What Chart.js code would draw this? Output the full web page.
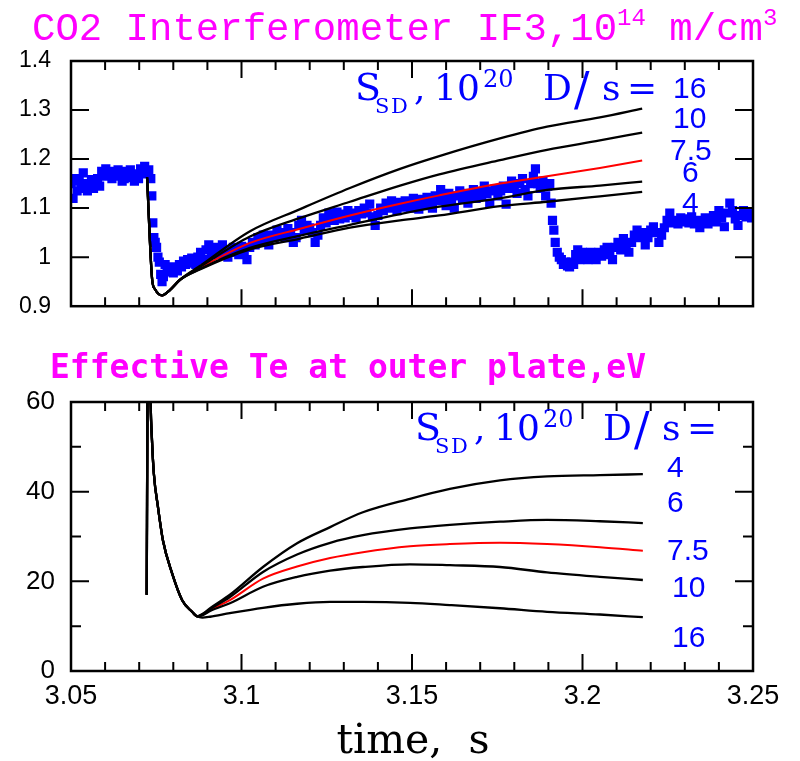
<!DOCTYPE html>
<html>
<head>
<meta charset="utf-8">
<script src="https://cdn.jsdelivr.net/npm/chart.js@4.4.1/dist/chart.umd.min.js"></script>
<style>
  html, body { margin: 0; padding: 0; background: #fff; }
  #wrap { position: relative; width: 800px; height: 761px; }
  canvas { position: absolute; left: 0; }
  #topChart { top: 0; }
  #botChart { top: 340px; }
</style>
</head>
<body>
<div id="wrap">
  <canvas id="topChart" width="800" height="340"></canvas>
  <canvas id="botChart" width="800" height="421"></canvas>
</div>
<script>
var xTicks = [3.05, 3.1, 3.15, 3.2, 3.25];
var topYTicks = [0.9, 1, 1.1, 1.2, 1.3, 1.4];
var botYTicks = [0, 20, 40, 60];
var topRunLabels = ['16', '10', '7.5', '6', '4'];
var botRunLabels = ['4', '6', '7.5', '10', '16'];

// measured line density, IF3 chord [time s, 1e14 cm^-3]
var densPoints = [
  [3.0500,1.150],[3.0506,1.120],[3.0512,1.160],[3.0518,1.135],[3.0524,1.155],[3.0530,1.140],
  [3.0536,1.172],[3.0542,1.150],[3.0548,1.135],[3.0554,1.145],[3.0560,1.158],[3.0566,1.140],
  [3.0572,1.150],[3.0578,1.160],[3.0584,1.145],[3.0590,1.175],[3.0596,1.165],[3.0602,1.180],
  [3.0608,1.168],[3.0614,1.175],[3.0620,1.160],[3.0626,1.172],[3.0632,1.165],[3.0638,1.178],
  [3.0644,1.170],[3.0650,1.155],[3.0656,1.160],[3.0662,1.175],[3.0668,1.162],[3.0674,1.178],
  [3.0680,1.168],[3.0686,1.155],[3.0692,1.170],[3.0698,1.160],[3.0704,1.180],[3.0710,1.172],
  [3.0716,1.185],[3.0722,1.170],[3.0728,1.178],[3.0734,1.160],[3.0737,1.125],[3.0740,1.070],
  [3.0743,1.040],[3.0747,1.030],[3.0751,1.020],[3.0755,1.000],[3.0759,0.990],[3.0763,0.965],
  [3.0767,0.950],[3.0771,0.960],[3.0776,0.985],[3.0782,0.975],[3.0788,0.970],[3.0794,0.980],
  [3.0800,0.968],[3.0806,0.978],[3.0812,0.972],[3.0818,0.985],[3.0824,0.980],[3.0830,0.992],
  [3.0836,0.985],[3.0842,0.995],[3.0848,0.988],[3.0854,0.998],[3.0860,0.990],[3.0866,0.985],
  [3.0872,1.000],[3.0880,1.010],[3.0888,0.995],[3.0896,1.015],[3.0904,1.025],[3.0912,1.005],
  [3.0920,1.010],[3.0928,1.020],[3.0936,1.005],[3.0944,1.025],[3.0952,1.015],[3.0960,1.000],
  [3.0968,1.010],[3.0976,1.020],[3.0984,1.010],[3.0992,1.005],[3.1000,1.022],[3.1008,1.012],
  [3.1016,0.995],[3.1024,1.020],[3.1032,1.030],[3.1040,1.025],[3.1048,1.040],[3.1056,1.030],
  [3.1064,1.045],[3.1072,1.035],[3.1080,1.025],[3.1088,1.045],[3.1096,1.040],[3.1104,1.055],
  [3.1112,1.045],[3.1120,1.050],[3.1128,1.040],[3.1136,1.058],[3.1144,1.050],[3.1152,1.030],
  [3.1160,1.040],[3.1168,1.065],[3.1176,1.075],[3.1184,1.055],[3.1192,1.065],[3.1200,1.060],
  [3.1208,1.050],[3.1216,1.030],[3.1224,1.045],[3.1232,1.065],[3.1240,1.080],[3.1248,1.070],
  [3.1256,1.090],[3.1264,1.085],[3.1272,1.075],[3.1280,1.092],[3.1288,1.078],[3.1296,1.088],
  [3.1304,1.080],[3.1312,1.095],[3.1320,1.085],[3.1328,1.090],[3.1336,1.080],[3.1344,1.095],
  [3.1352,1.088],[3.1360,1.100],[3.1368,1.090],[3.1376,1.108],[3.1384,1.082],[3.1392,1.065],
  [3.1400,1.085],[3.1408,1.100],[3.1416,1.095],[3.1424,1.110],[3.1432,1.100],[3.1440,1.115],
  [3.1448,1.105],[3.1456,1.095],[3.1464,1.112],[3.1472,1.102],[3.1480,1.115],[3.1488,1.108],
  [3.1496,1.100],[3.1504,1.120],[3.1512,1.110],[3.1520,1.098],[3.1528,1.118],[3.1536,1.105],
  [3.1544,1.122],[3.1552,1.112],[3.1560,1.100],[3.1568,1.125],[3.1576,1.115],[3.1584,1.138],
  [3.1592,1.120],[3.1600,1.105],[3.1608,1.130],[3.1616,1.115],[3.1624,1.100],[3.1632,1.125],
  [3.1640,1.135],[3.1648,1.118],[3.1656,1.130],[3.1664,1.110],[3.1672,1.128],[3.1680,1.138],
  [3.1688,1.120],[3.1696,1.132],[3.1704,1.125],[3.1712,1.145],[3.1720,1.130],[3.1728,1.110],
  [3.1736,1.135],[3.1744,1.140],[3.1752,1.125],[3.1760,1.135],[3.1768,1.145],[3.1776,1.108],
  [3.1784,1.140],[3.1792,1.155],[3.1800,1.140],[3.1808,1.130],[3.1816,1.150],[3.1824,1.160],
  [3.1832,1.138],[3.1840,1.125],[3.1848,1.150],[3.1856,1.165],[3.1862,1.180],[3.1868,1.150],
  [3.1876,1.140],[3.1884,1.155],[3.1892,1.125],[3.1898,1.145],[3.1904,1.150],[3.1908,1.110],
  [3.1912,1.075],[3.1916,1.055],[3.1920,1.030],[3.1926,1.010],[3.1932,1.000],[3.1938,0.995],
  [3.1944,0.985],[3.1950,0.990],[3.1956,0.982],[3.1962,0.980],[3.1968,0.990],[3.1974,0.985],
  [3.1980,1.005],[3.1986,1.015],[3.1992,0.995],[3.2000,1.010],[3.2008,1.002],[3.2016,0.995],
  [3.2024,1.010],[3.2032,1.005],[3.2040,0.995],[3.2048,1.010],[3.2056,1.002],[3.2064,1.015],
  [3.2072,1.020],[3.2080,1.005],[3.2088,0.995],[3.2096,1.020],[3.2104,1.030],[3.2112,1.015],
  [3.2120,1.038],[3.2128,1.025],[3.2136,1.010],[3.2144,1.030],[3.2152,1.045],[3.2160,1.055],
  [3.2168,1.040],[3.2176,1.050],[3.2184,1.025],[3.2192,1.040],[3.2200,1.055],[3.2208,1.062],
  [3.2216,1.050],[3.2224,1.030],[3.2232,1.045],[3.2240,1.060],[3.2248,1.075],[3.2256,1.090],
  [3.2264,1.070],[3.2272,1.075],[3.2280,1.068],[3.2288,1.080],[3.2296,1.072],[3.2304,1.078],
  [3.2312,1.070],[3.2320,1.082],[3.2328,1.068],[3.2336,1.075],[3.2344,1.060],[3.2352,1.072],
  [3.2360,1.080],[3.2368,1.068],[3.2376,1.075],[3.2384,1.085],[3.2392,1.072],[3.2400,1.095],
  [3.2408,1.080],[3.2416,1.062],[3.2424,1.090],[3.2432,1.110],[3.2440,1.095],[3.2448,1.078],
  [3.2456,1.065],[3.2464,1.085],[3.2472,1.095],[3.2480,1.082],[3.2488,1.090],[3.2496,1.080],
  [3.2504,1.088]
];

// modelled density, shared start then one run per S_SD
var topStartT = [3.0723, 3.0738, 3.0746, 3.0767, 3.0790, 3.0820];
var topStartV = [1.163, 0.954, 0.935, 0.922, 0.933, 0.954];
var topT   = [3.0878, 3.1025, 3.1172, 3.1318, 3.1465, 3.1580, 3.1758, 3.1896, 3.2051, 3.2175];
var topN16 = [0.982, 1.053, 1.098, 1.141, 1.180, 1.206, 1.242, 1.266, 1.285, 1.303];
var topN10 = [0.980, 1.042, 1.080, 1.113, 1.146, 1.169, 1.198, 1.219, 1.238, 1.254];
var topN75 = [0.978, 1.029, 1.058, 1.085, 1.109, 1.126, 1.150, 1.165, 1.182, 1.197];
var topN6  = [0.976, 1.019, 1.044, 1.066, 1.088, 1.103, 1.120, 1.137, 1.146, 1.154];
var topN4  = [0.975, 1.016, 1.038, 1.060, 1.075, 1.085, 1.104, 1.113, 1.124, 1.133];

// modelled Te at outer plate
var botStartT = [3.0722, 3.0727, 3.07335, 3.07375, 3.0743, 3.0755, 3.0770, 3.0796, 3.0826, 3.0855, 3.0870];
var botStartV = [17, 100, 60, 51.5, 44, 36.6, 29, 21.9, 15.8, 13.2, 12.2];
var botT    = [3.0885, 3.0908, 3.0966, 3.1063, 3.1163, 3.1260, 3.1356, 3.1494, 3.1611, 3.1758, 3.1896, 3.2051, 3.2177];
var botTe4  = [12.7, 14.0, 17.0, 23.2, 28.5, 32.1, 35.4, 38.4, 40.6, 42.5, 43.4, 43.7, 43.9];
var botTe6  = [12.6, 13.8, 16.5, 22.1, 26.0, 28.6, 30.3, 31.8, 32.6, 33.3, 33.7, 33.4, 33.0];
var botTe75 = [12.5, 13.6, 15.8, 20.6, 23.3, 25.2, 26.5, 27.8, 28.3, 28.6, 28.3, 27.6, 26.8];
var botTe10 = [12.4, 13.4, 15.1, 18.8, 21.0, 22.4, 23.2, 23.8, 23.6, 23.2, 22.0, 21.0, 20.3];
var botTe16 = [11.9, 12.1, 12.9, 14.1, 15.0, 15.4, 15.4, 15.2, 14.7, 14.0, 13.2, 12.6, 12.0];

function toXY(ts, vs) {
  return ts.map(function (t, i) { return { x: t, y: vs[i] }; });
}

function modelLine(startT, startV, ts, vs, color) {
  return {
    data: toXY(startT.concat(ts), startV.concat(vs)),
    borderColor: color,
    borderWidth: color === '#ff0000' ? 2 : 2.3,
    pointRadius: 0,
    cubicInterpolationMode: 'monotone',
    fill: false
  };
}

function fmt(v) { return String(+v.toFixed(2)); }

// box with inward ticks on all four sides
var framePlugin = {
  id: 'frame',
  afterDatasetsDraw: function (chart, args, opts) {
    var ctx = chart.ctx, a = chart.chartArea;
    var xs = chart.scales.x, ys = chart.scales.y;
    ctx.save();
    ctx.strokeStyle = '#000';
    ctx.lineWidth = 2;
    ctx.beginPath();
    for (var i = 1; i < 20; i++) {
      var px = xs.getPixelForValue(3.05 + i * 0.01);
      var len = i % 5 === 0 ? 17 : 9;
      ctx.moveTo(px, a.bottom); ctx.lineTo(px, a.bottom - len);
      ctx.moveTo(px, a.top); ctx.lineTo(px, a.top + len);
    }
    for (var j = 1; j < opts.yCount; j++) {
      var py = ys.getPixelForValue(opts.yMin + j * opts.yStep);
      var ylen = j % opts.yMajorEvery === 0 ? 18 : 10;
      ctx.moveTo(a.left, py); ctx.lineTo(a.left + ylen, py);
      ctx.moveTo(a.right, py); ctx.lineTo(a.right - ylen, py);
    }
    ctx.stroke();
    ctx.lineWidth = 2.5;
    ctx.strokeRect(a.left, a.top, a.right - a.left, a.bottom - a.top);
    ctx.restore();
  }
};

function drawSsd(ctx, x, y) {
  ctx.fillStyle = '#0000ff';
  ctx.textAlign = 'left';
  ctx.textBaseline = 'alphabetic';
  ctx.font = '38px "DejaVu Serif"';
  ctx.fillText('S', x, y);
  ctx.font = '21px "DejaVu Serif"';
  ctx.fillText('S', x + 20, y + 13);
  ctx.fillText('D', x + 36, y + 13);
  ctx.font = '36px "DejaVu Serif"';
  ctx.fillText(',', x + 59, y);
  ctx.fillText('10', x + 79, y);
  ctx.font = '24px "DejaVu Serif"';
  ctx.fillText('20', x + 128, y - 13);
  ctx.font = '36px "DejaVu Serif"';
  ctx.fillText('D', x + 188, y);
  ctx.font = '46px "DejaVu Serif"';
  ctx.fillText('/', x + 219, y + 5);
  ctx.font = '36px "DejaVu Serif"';
  ctx.fillText('s', x + 247, y);
  ctx.fillText('=', x + 272, y);
}

var topTextPlugin = {
  id: 'topText',
  afterDraw: function (chart) {
    var ctx = chart.ctx;
    ctx.save();
    ctx.fillStyle = '#ff00ff';
    ctx.textBaseline = 'alphabetic';
    ctx.textAlign = 'left';
    var x = 32;
    ctx.font = '39px "Liberation Mono"';
    ctx.fillText('CO2 Interferometer IF3,10', x, 40);
    x += ctx.measureText('CO2 Interferometer IF3,10').width;
    ctx.font = '24px "Liberation Mono"';
    ctx.fillText('14', x, 25);
    x += ctx.measureText('14').width;
    ctx.font = '39px "Liberation Mono"';
    ctx.fillText(' m/cm', x, 40);
    x += ctx.measureText(' m/cm').width;
    ctx.font = '24px "Liberation Mono"';
    ctx.fillText('3', x, 25);

    drawSsd(ctx, 355, 100);
    ctx.font = '30px "Liberation Sans"';
    var pos = [[673, 98], [673, 128], [670, 160], [682, 182], [682, 213]];
    topRunLabels.forEach(function (s, i) { ctx.fillText(s, pos[i][0], pos[i][1]); });
    ctx.restore();
  }
};

var botTextPlugin = {
  id: 'botText',
  afterDraw: function (chart) {
    var ctx = chart.ctx;
    ctx.save();
    ctx.fillStyle = '#ff00ff';
    ctx.textBaseline = 'alphabetic';
    ctx.textAlign = 'left';
    ctx.font = 'bold 33px "DejaVu Sans Mono"';
    ctx.fillText('Effective Te at outer plate,eV', 50, 38);

    drawSsd(ctx, 415, 100);
    ctx.font = '30px "Liberation Sans"';
    var pos = [[667, 137], [667, 172], [667, 220], [672, 257], [672, 307]];
    botRunLabels.forEach(function (s, i) { ctx.fillText(s, pos[i][0], pos[i][1]); });

    ctx.fillStyle = '#000';
    ctx.textAlign = 'center';
    ctx.font = '41px "DejaVu Serif"';
    ctx.fillText('time,  s', 413, 413);
    ctx.restore();
  }
};

function baseOptions(yMin, yMax, yTicks, padTop, yFont, yPad, xHeight, showX) {
  return {
    responsive: false,
    animation: false,
    devicePixelRatio: 1,
    events: [],
    layout: { padding: { left: 0, top: padTop, right: 47, bottom: 0 } },
    plugins: { legend: { display: false }, tooltip: { enabled: false } },
    scales: {
      x: {
        type: 'linear', min: 3.05, max: 3.25,
        grid: { display: false, drawTicks: false },
        border: { display: false },
        afterBuildTicks: function (s) { s.ticks = xTicks.map(function (v) { return { value: v }; }); },
        afterFit: function (s) { s.height = xHeight; },
        ticks: {
          display: showX, padding: 9, color: '#000', maxRotation: 0,
          font: { family: 'Liberation Sans', size: 27 },
          callback: function (v) { return fmt(v); }
        }
      },
      y: {
        type: 'linear', min: yMin, max: yMax,
        grid: { display: false, drawTicks: false },
        border: { display: false },
        afterBuildTicks: function (s) { s.ticks = yTicks.map(function (v) { return { value: v }; }); },
        afterFit: function (s) { s.width = 71; },
        ticks: {
          padding: yPad, color: '#000',
          font: { family: 'Liberation Sans', size: yFont },
          callback: function (v) { return fmt(v); }
        }
      }
    }
  };
}

var topOpts = baseOptions(0.9, 1.4, topYTicks, 61, 23, 20, 11, false);
topOpts.plugins.frame = { yMin: 0.9, yStep: 0.1, yCount: 5, yMajorEvery: 1 };

new Chart(document.getElementById('topChart').getContext('2d'), {
  type: 'line',
  data: {
    datasets: [
      modelLine(topStartT, topStartV, topT, topN16, '#000000'),
      modelLine(topStartT, topStartV, topT, topN10, '#000000'),
      modelLine(topStartT, topStartV, topT, topN6, '#000000'),
      modelLine(topStartT, topStartV, topT, topN4, '#000000'),
      modelLine(topStartT, topStartV, topT, topN75, '#ff0000'),
      {
        data: densPoints.map(function (p) { return { x: p[0], y: p[1] }; }),
        showLine: false,
        pointStyle: 'rect',
        pointRadius: 6.5,
        pointBorderWidth: 0,
        pointBackgroundColor: '#0000ff',
        borderColor: '#0000ff'
      }
    ]
  },
  options: topOpts,
  plugins: [framePlugin, topTextPlugin]
});

var botOpts = baseOptions(0, 60, botYTicks, 62, 26, 16, 90, true);
botOpts.plugins.frame = { yMin: 0, yStep: 10, yCount: 6, yMajorEvery: 2 };

new Chart(document.getElementById('botChart').getContext('2d'), {
  type: 'line',
  data: {
    datasets: [
      modelLine(botStartT, botStartV, botT, botTe4, '#000000'),
      modelLine(botStartT, botStartV, botT, botTe6, '#000000'),
      modelLine(botStartT, botStartV, botT, botTe10, '#000000'),
      modelLine(botStartT, botStartV, botT, botTe16, '#000000'),
      modelLine(botStartT, botStartV, botT, botTe75, '#ff0000')
    ]
  },
  options: botOpts,
  plugins: [framePlugin, botTextPlugin]
});
</script>
</body>
</html>
